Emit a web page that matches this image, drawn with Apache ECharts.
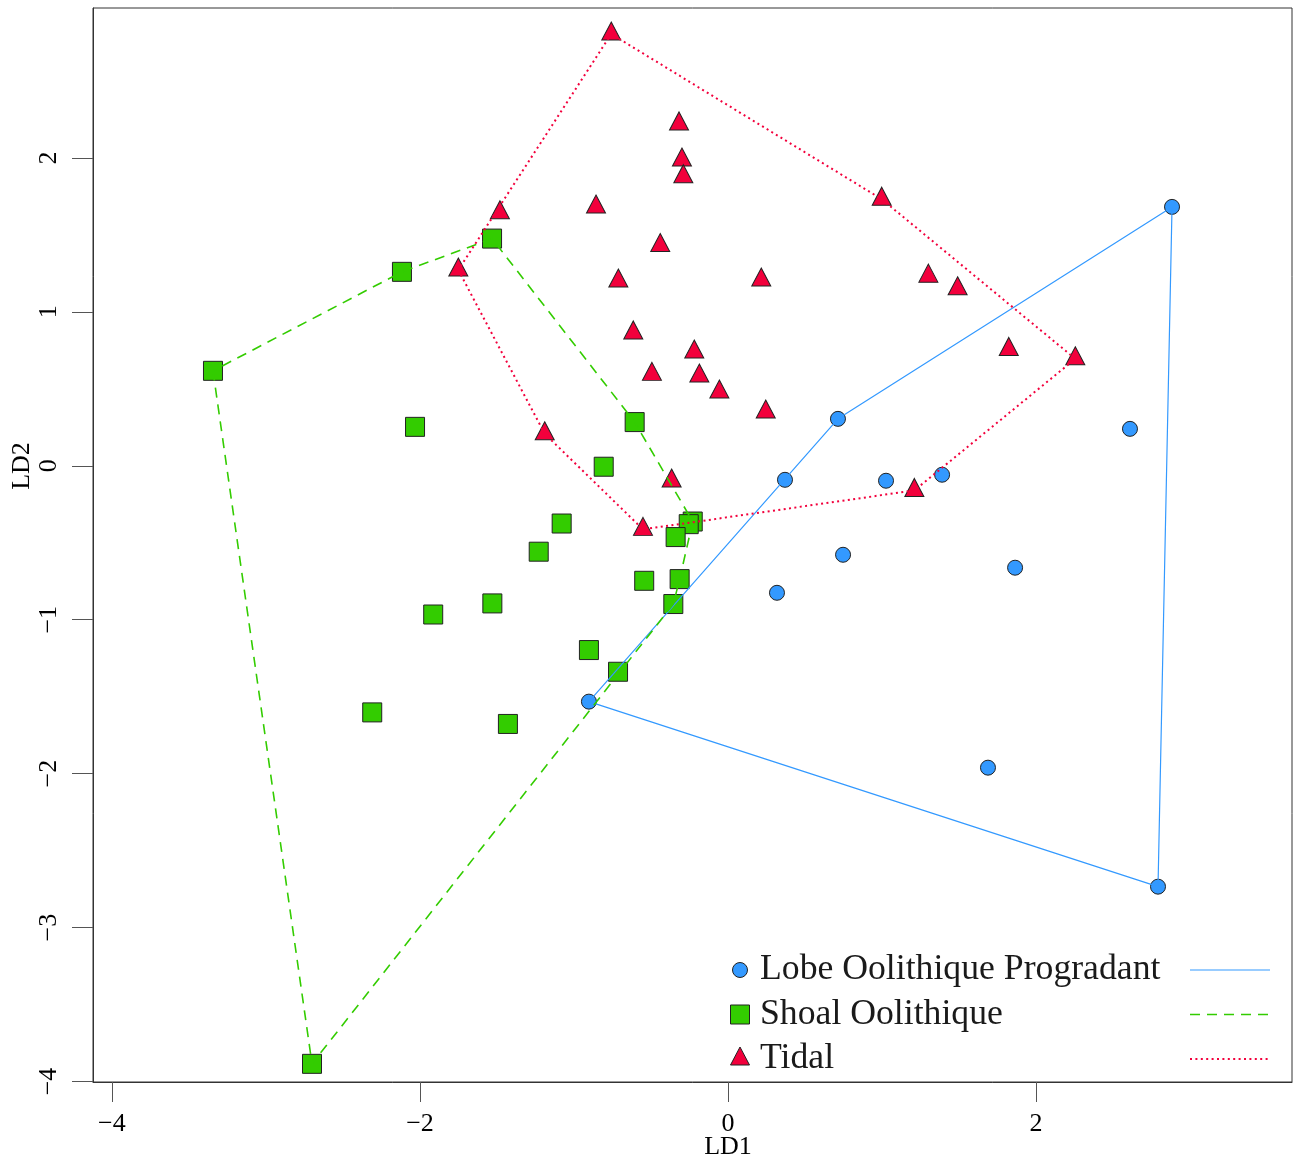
<!DOCTYPE html>
<html><head><meta charset="utf-8">
<script src="https://cdn.jsdelivr.net/npm/echarts@6/dist/echarts.min.js"></script>
<style>html,body{margin:0;padding:0;background:#fff}#chart{width:1293px;height:1162px}</style>
</head><body><div id="chart"></div>
<script>
// ---- data (LD1, LD2) ----
const groupNames = ['Lobe Oolithique Progradant', 'Shoal Oolithique', 'Tidal'];
const lobePoints = [
  [2.883, 1.682], [0.714, 0.305], [2.610, 0.240], [0.370, -0.091], [1.026, -0.097],
  [1.390, -0.058], [0.747, -0.578], [1.864, -0.662], [0.318, -0.825], [-0.903, -1.532],
  [1.688, -1.961], [2.792, -2.734]
];
const shoalPoints = [
  [-3.344, 0.617], [-2.117, 1.260], [-1.532, 1.476], [-2.032, 0.253], [-0.606, 0.284],
  [-0.807, -0.006], [-1.080, -0.375], [-1.229, -0.558], [-0.229, -0.362], [-0.255, -0.379],
  [-0.340, -0.463], [-0.544, -0.747], [-0.314, -0.736], [-0.355, -0.898], [-1.530, -0.894],
  [-1.914, -0.966], [-0.903, -1.197], [-0.714, -1.338], [-2.310, -1.602], [-1.429, -1.677],
  [-2.701, -3.885]
];
const tidalPoints = [
  [-0.758, 2.805], [-0.318, 2.221], [-0.299, 1.986], [-0.290, 1.878], [-0.857, 1.681],
  [-1.481, 1.644], [-1.751, 1.272], [-1.190, 0.208], [-0.440, 1.431], [-0.712, 1.200],
  [0.216, 1.207], [-0.615, 0.863], [-0.219, 0.739], [-0.494, 0.594], [-0.186, 0.583],
  [-0.056, 0.479], [0.245, 0.349], [-0.366, -0.099], [-0.552, -0.413], [1.210, -0.160],
  [0.998, 1.732], [1.301, 1.232], [1.491, 1.150], [1.823, 0.756], [2.255, 0.695]
];
const xTicks = [-4, -2, 0, 2];
const yTicks = [-4, -3, -2, -1, 0, 1, 2];

// ---- convex hull (monotone chain), closed ring ----
function hull(pts) {
  const p = pts.slice().sort((a, b) => a[0] - b[0] || a[1] - b[1]);
  const cross = (o, a, b) => (a[0] - o[0]) * (b[1] - o[1]) - (a[1] - o[1]) * (b[0] - o[0]);
  const lower = [], upper = [];
  for (const q of p) { while (lower.length >= 2 && cross(lower[lower.length - 2], lower[lower.length - 1], q) <= 0) lower.pop(); lower.push(q); }
  for (let i = p.length - 1; i >= 0; i--) { const q = p[i]; while (upper.length >= 2 && cross(upper[upper.length - 2], upper[upper.length - 1], q) <= 0) upper.pop(); upper.push(q); }
  const h = lower.slice(0, -1).concat(upper.slice(0, -1));
  h.push(h[0]);
  return h;
}

const colors = ['#3399FF', '#33CC00', '#F2003C'];
const symbols = ['circle', 'rect', 'triangle'];
const sizes = [15, 19, [19, 18]];
const offsets = [[0, 0], [0, 0], [0, -3]];
const lineStyles = [
  { color: '#3399FF', width: 1.2, type: 'solid' },
  { color: '#33CC00', width: 1.6, type: [10, 7] },
  { color: '#F2003C', width: 2, type: [2, 3.4] }
];
const groups = [lobePoints, shoalPoints, tidalPoints];
const serif = '"Liberation Serif", "Times New Roman", "DejaVu Serif", serif';
const fmt = v => String(v).replace('-', '\u2212');

const series = [];
groups.forEach((g, i) => {
  series.push({
    name: groupNames[i], type: 'scatter', data: g, z: 3,
    symbol: symbols[i], symbolSize: sizes[i], symbolOffset: offsets[i],
    itemStyle: { color: colors[i], borderColor: '#222', borderWidth: 1, opacity: 1 },
    emphasis: { disabled: true }
  });
});
groups.forEach((g, i) => {
  series.push({
    name: groupNames[i] + ' hull', type: 'line', data: hull(g), z: 4,
    showSymbol: false, symbol: 'none', silent: true, animation: false,
    lineStyle: lineStyles[i]
  });
});

// legend (drawn as graphic, bottom-right inside the plot)
const legX = 740, legTextX = 760, legY = [970, 1014.5, 1059], lineX1 = 1190, lineX2 = 1270;
const graphic = [];
groupNames.forEach((n, i) => {
  const y = legY[i];
  if (i === 0) graphic.push({ type: 'circle', shape: { cx: legX, cy: y, r: 7.5 }, style: { fill: colors[0], stroke: '#222', lineWidth: 1 } });
  if (i === 1) graphic.push({ type: 'rect', shape: { x: legX - 9.5, y: y - 9.5, width: 19, height: 19 }, style: { fill: colors[1], stroke: '#222', lineWidth: 1 } });
  if (i === 2) graphic.push({ type: 'polygon', shape: { points: [[legX, y - 12], [legX + 9.5, y + 6], [legX - 9.5, y + 6]] }, style: { fill: colors[2], stroke: '#222', lineWidth: 1 } });
  graphic.push({ type: 'text', x: legTextX, y: y, style: { text: n, font: '35.7px ' + serif, fill: '#1a1a1a', verticalAlign: 'middle', align: 'left' } });
  const ls = lineStyles[i];
  graphic.push({ type: 'line', shape: { x1: lineX1, y1: y, x2: lineX2, y2: y }, style: { stroke: ls.color, lineWidth: ls.width, lineDash: ls.type === 'solid' ? null : ls.type } });
});

const chart = echarts.init(document.getElementById('chart'), null, { renderer: 'canvas' });
chart.setOption({
  animation: false,
  backgroundColor: '#fff',
  grid: { left: 93, right: 1, top: 8, bottom: 80, show: true, borderColor: '#333', borderWidth: 1, containLabel: false, outerBoundsMode: 'none' },
  xAxis: {
    type: 'value', min: -4.123, max: 3.662,
    name: 'LD1', nameLocation: 'middle', nameGap: 52, nameMoveOverlap: false,
    nameTextStyle: { fontFamily: serif, fontSize: 26, color: '#000', padding: [0, 0, 0, 71] },
    axisLine: { show: true, onZero: false, lineStyle: { color: '#333', width: 1 } },
    axisTick: { show: true, customValues: xTicks, length: 20, lineStyle: { color: '#555' } },
    axisLabel: { customValues: xTicks, margin: 29, fontFamily: serif, fontSize: 26, color: '#000', formatter: fmt },
    splitLine: { show: false }
  },
  yAxis: {
    type: 'value', min: -4.003, max: 2.974,
    name: 'LD2', nameLocation: 'middle', nameGap: 58, nameMoveOverlap: false,
    nameTextStyle: { fontFamily: serif, fontSize: 26, color: '#000', padding: [0, 0, 0, 158] },
    axisLine: { show: true, onZero: false, lineStyle: { color: '#333', width: 1 } },
    axisTick: { show: true, customValues: yTicks, length: 21, lineStyle: { color: '#555' } },
    axisLabel: { customValues: yTicks, rotate: 90, margin: 31, fontFamily: serif, fontSize: 26, color: '#000', formatter: fmt },
    splitLine: { show: false }
  },
  series: series,
  graphic: graphic
});
</script></body></html>
